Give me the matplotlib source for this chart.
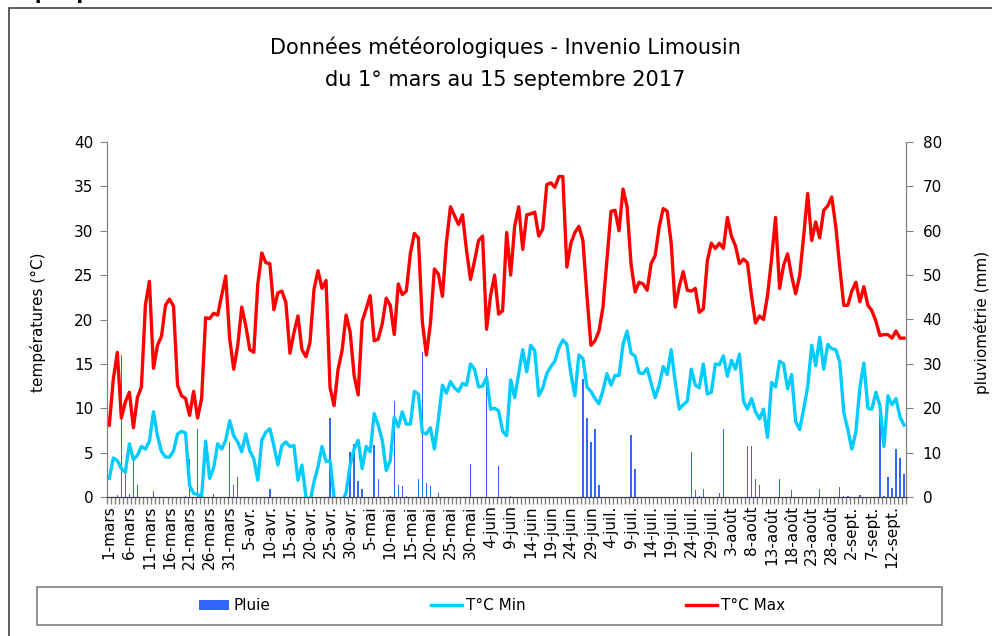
import numpy as np
import matplotlib
matplotlib.use("Agg")
import matplotlib.pyplot as plt
from matplotlib.patches import Rectangle
from matplotlib.ticker import FixedLocator, MultipleLocator

# daily values, 1 march -> 15 september 2017 (199 days)
t_max = [
    8.1, 13.3, 16.3, 8.9, 10.7, 11.8, 7.8, 11.2, 12.4, 21.7,
    24.3, 14.5, 17.1, 18.1, 21.6, 22.3, 21.5, 12.6, 11.4, 11.1,
    9.2, 11.9, 8.9, 11.1, 20.2, 20.1, 20.7, 20.5, 22.7, 24.9,
    17.8, 14.4, 17.1, 21.4, 19.3, 16.6, 16.3, 24.0, 27.5, 26.4,
    26.3, 21.1, 23.0, 23.2, 21.9, 16.2, 18.5, 20.4, 16.6, 15.8,
    17.4, 23.4, 25.5, 23.5, 24.4, 12.3, 10.3, 14.4, 16.5, 20.5,
    18.6, 13.7, 11.5, 19.8, 21.2, 22.7, 17.6, 17.8, 19.5, 22.4,
    21.6, 18.3, 24.0, 22.8, 23.2, 27.4, 29.7, 29.2, 19.7, 16.0,
    19.5, 25.7, 25.1, 22.6, 28.7, 32.7, 31.7, 30.7, 31.8, 27.8,
    24.5, 26.6, 28.9, 29.4, 18.9, 22.7, 25.0, 20.6, 21.0, 29.8,
    25.0, 30.5, 32.7, 27.9, 31.8, 31.9, 32.1, 29.4, 30.2, 35.2,
    35.4, 34.9, 36.1, 36.1, 25.9, 28.6, 29.8, 30.5, 28.9, 22.7,
    17.1, 17.6, 18.7, 21.4, 26.8, 32.2, 32.3, 30.0, 34.7, 32.7,
    26.2, 23.1, 24.2, 24.0, 23.3, 26.3, 27.2, 30.4, 32.5, 32.2,
    28.6, 21.4, 23.7, 25.4, 23.3, 23.2, 23.5, 20.8, 21.2, 26.6,
    28.6, 28.0, 28.6, 28.0, 31.5, 29.4, 28.3, 26.3, 26.8, 26.4,
    22.7, 19.6, 20.4, 20.0, 22.7, 26.8, 31.5, 23.5, 26.1, 27.4,
    24.9, 22.9, 24.9, 29.4, 34.2, 28.9, 31.0, 29.2, 32.3, 32.8,
    33.8, 30.5, 25.9, 21.6, 21.6, 23.2, 24.2, 22.0, 23.7, 21.6,
    21.0, 19.8, 18.2, 18.3, 18.3, 17.9, 18.7, 17.9, 17.9,
]

t_min = [
    2.1, 4.4, 4.1, 3.2, 2.8, 6.0, 4.2, 4.7, 5.7, 5.4,
    6.3, 9.6, 6.9, 5.1, 4.5, 4.5, 5.2, 7.1, 7.4, 7.2,
    1.3, 0.4, 0.3, 0.0, 6.3, 2.1, 3.3, 6.0, 5.4, 6.4,
    8.6, 6.9, 6.2, 5.1, 7.1, 5.2, 4.3, 1.9, 6.4, 7.3,
    7.7, 5.8, 3.6, 5.8, 6.2, 5.7, 5.8, 1.9, 3.6, 0.0,
    -0.6, 1.7, 3.4, 5.7, 4.0, 4.1, 0.0, -0.6, -0.6, 0.5,
    3.6, 5.4, 6.4, 3.2, 5.7, 5.1, 9.4, 8.1, 6.4, 3.0,
    4.1, 9.0, 7.9, 9.6, 8.2, 8.2, 11.9, 11.6, 7.3, 7.1,
    7.8, 5.4, 8.8, 12.6, 11.7, 13.0, 12.3, 11.9, 12.8, 12.6,
    15.0, 14.4, 12.4, 12.5, 13.5, 9.9, 10.0, 9.7, 7.4, 6.9,
    13.2, 11.2, 13.9, 16.6, 14.1, 17.1, 16.5, 11.4, 12.3, 13.9,
    14.7, 15.3, 16.8, 17.7, 17.2, 13.9, 11.4, 16.0, 15.6, 12.4,
    11.9, 11.1, 10.5, 12.0, 13.9, 12.6, 13.7, 13.7, 17.2, 18.7,
    16.2, 15.9, 14.0, 13.9, 14.5, 12.8, 11.2, 12.6, 14.7, 13.8,
    16.6, 13.0, 9.9, 10.4, 10.8, 14.4, 12.6, 12.3, 15.0, 11.6,
    11.8, 15.0, 14.9, 15.9, 13.6, 15.4, 14.4, 16.1, 10.8, 9.9,
    11.1, 9.6, 8.8, 9.9, 6.7, 12.9, 12.4, 15.3, 15.0, 12.2,
    13.8, 8.5, 7.6, 9.9, 12.4, 17.1, 14.8, 18.0, 14.4, 17.2,
    16.7, 16.6, 15.2, 9.5, 7.6, 5.4, 7.3, 12.3, 15.1, 10.0,
    9.9, 11.8, 10.3, 5.7, 11.4, 10.4, 11.1, 9.0, 8.1,
]

pluie = [
    0, 0, 0.5, 31.9, 5.6, 0.7, 9.0, 2.6, 0, 0,
    0, 1.3, 0, 0, 0, 0, 0, 0, 0, 0.3,
    8.6, 0, 15.4, 1.9, 0, 0, 0.7, 0, 0, 0,
    12.5, 2.8, 4.5, 0, 0, 0, 0, 0, 0, 0,
    1.9, 0, 0, 0, 0, 0, 0, 0, 0, 0,
    0, 0, 0, 0, 0, 17.8, 0, 0, 0, 0,
    10.1, 12.0, 3.7, 1.7, 0, 0, 11.8, 4.1, 0, 0,
    0.2, 21.7, 2.8, 2.5, 0.2, 0, 0, 4.1, 32.6, 3.2,
    2.5, 0, 1.0, 0, 0, 0, 0, 0, 0, 0,
    7.5, 0, 0, 0, 29.0, 0, 0, 7.0, 0, 0,
    0.2, 0, 0, 0, 0, 0, 0, 0, 0, 0,
    0, 0, 0, 0, 0, 0, 0, 0, 26.6, 17.8,
    12.4, 15.4, 2.8, 0, 0, 0, 0, 0, 0, 0,
    13.9, 6.2, 0, 0, 0, 0, 0, 0, 0, 0,
    0, 0, 0, 0, 0, 10.1, 1.5, 0.2, 1.9, 0,
    0, 0, 1.0, 15.4, 0, 0, 0, 0, 0, 11.5,
    11.6, 4.1, 2.6, 0, 0, 0, 0, 4.1, 0, 0,
    1.5, 0, 0, 0, 0, 0, 0, 1.7, 0, 0,
    0, 0, 2.2, 0.2, 0.2, 0, 0, 0.5, 0, 0,
    0, 0, 21.2, 0.2, 4.5, 2.0, 10.9, 8.8, 5.2,
]

date_labels = [
    "1-mars", "6-mars", "11-mars", "16-mars", "21-mars", "26-mars", "31-mars",
    "5-avr.", "10-avr.", "15-avr.", "20-avr.", "25-avr.", "30-avr.",
    "5-mai", "10-mai", "15-mai", "20-mai", "25-mai", "30-mai",
    "4-juin", "9-juin", "14-juin", "19-juin", "24-juin", "29-juin",
    "4-juil.", "9-juil.", "14-juil.", "19-juil.", "24-juil.", "29-juil.",
    "3-août", "8-août", "13-août", "18-août", "23-août", "28-août",
    "2-sept.", "7-sept.", "12-sept.",
]

W, H = 992, 636
days = np.arange(len(t_max))
grey = "#808080"

fig = plt.figure(figsize=(W / 100, H / 100), dpi=100)
ax = fig.add_axes([107.3 / W, 1 - 497 / H, (906 - 107.3) / W, (497 - 142) / H])
ax2 = ax.twinx()

# rain behind the temperature lines
ax2.bar(days, pluie, width=0.35, color="#3366FF", zorder=1, label="Pluie")
l_min, = ax.plot(days, t_min, color="#00CCFF", lw=2.4, label="T°C Min")
l_max, = ax.plot(days, t_max, color="#FF0000", lw=2.4, label="T°C Max")
ax.set_zorder(ax2.get_zorder() + 1)
ax.patch.set_visible(False)

ax.set_xlim(-0.5, len(days) - 0.5)
ax.set_ylim(0, 40)
ax2.set_ylim(0, 80)

ax.yaxis.set_major_locator(MultipleLocator(5))
ax2.yaxis.set_major_locator(MultipleLocator(10))
ax.set_xticks(days[::5])
ax.set_xticklabels(date_labels, rotation=90)
ax.xaxis.set_minor_locator(FixedLocator(np.arange(-0.5, len(days), 1)))

ax.tick_params(axis="x", which="major", length=0, pad=6, labelsize=11)
ax.tick_params(axis="x", which="minor", length=5, color=grey, width=1)
ax.tick_params(axis="y", length=5, color=grey, pad=5, labelsize=11)
ax2.tick_params(axis="y", length=5, color=grey, pad=7, labelsize=11)

for a in (ax, ax2):
    a.spines["top"].set_visible(False)
    a.spines["left"].set_color(grey)
    a.spines["right"].set_color(grey)
    a.spines["bottom"].set_color("#404040")

fig.text(38 / W, 1 - 322 / H, "températures (°C)", rotation=90,
         ha="center", va="center", fontsize=11)
fig.text(982 / W, 1 - 322 / H, "pluviométrie (mm)", rotation=90,
         ha="center", va="center", fontsize=11)

fig.text(505 / W, 1 - 47 / H, "Données météorologiques - Invenio Limousin",
         ha="center", va="center", fontsize=15)
fig.text(505 / W, 1 - 80 / H, "du 1° mars au 15 septembre 2017",
         ha="center", va="center", fontsize=15)

# page heading cut off at the top of the screenshot (only its foot shows)
fig.text(-4 / W, 1 + 1 / H, "Graphiques", fontsize=14, fontweight="bold",
         va="baseline")

# outer chart frame, open at right and bottom
fig.add_artist(Rectangle((9 / W, -0.2), 1.2, 1.2 - 8 / H, transform=fig.transFigure,
                         fill=False, edgecolor="#404040", lw=1.2))

# legend box
fig.add_artist(Rectangle((37 / W, 1 - 625 / H), (942 - 37) / W, 38 / H,
                         transform=fig.transFigure, fill=False,
                         edgecolor=grey, lw=1.2))
bars = ax2.patches[0]
fig.legend([bars, l_min, l_max], ["Pluie", "T°C Min", "T°C Max"],
           loc="center", bbox_to_anchor=(492 / W, 1 - 606 / H), ncol=3,
           frameon=False, fontsize=11, handlelength=2.0, handleheight=0.6,
           handletextpad=0.3, columnspacing=10.5)

fig.savefig("out.png", dpi=100)
